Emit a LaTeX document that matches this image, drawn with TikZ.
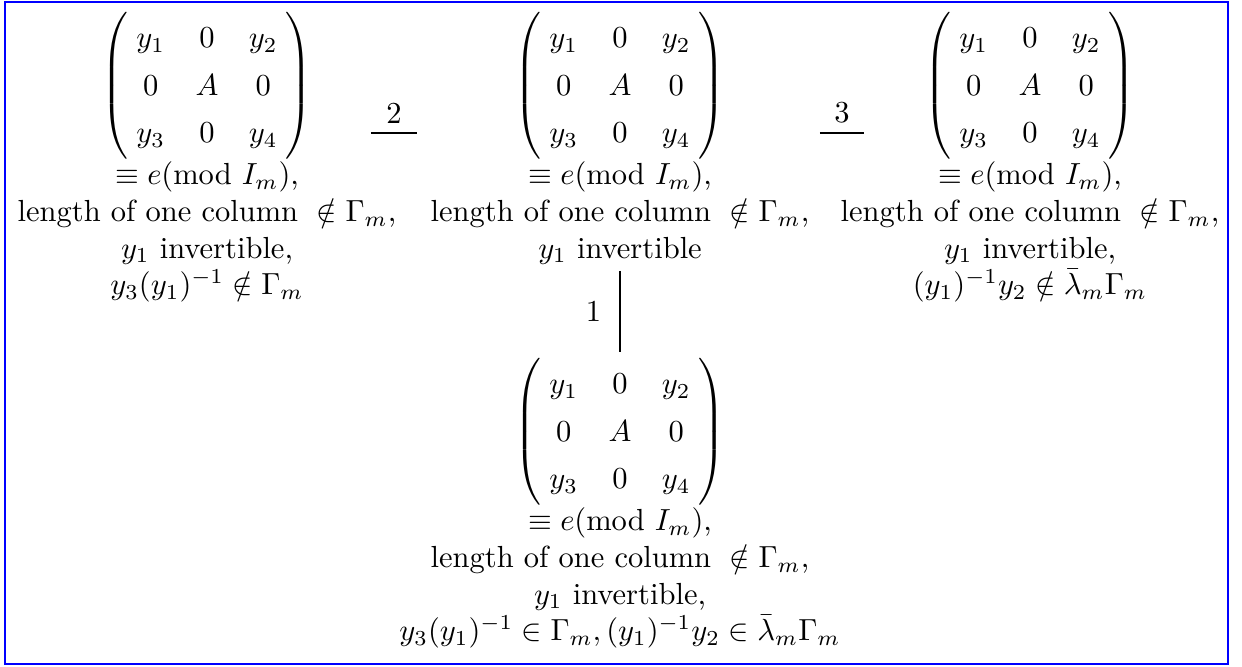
\documentclass[tikz,border=0pt]{standalone}
\usepackage{amsmath}
\usetikzlibrary{positioning}

\newcommand{\ymat}{\left(\renewcommand{\arraystretch}{1.3}%
  \begin{array}{@{\hspace{2.6pt}}ccc@{\hspace{2.6pt}}} y_1 & 0 & y_2\\ 0 & A & 0\\ y_3 & 0 & y_4 \end{array}\right)}

\begin{document}
\begin{tikzpicture}
  [x=0.1152mm,y=-0.1152mm,
   cond/.style={align=center,inner sep=0pt},
   link/.style={draw,line width=0.45pt},
   lbl/.style={inner sep=3pt}]
  \useasboundingbox (0,0) rectangle (1242,666);
  \draw[blue,line width=0.8pt] (5,2) rectangle (1228,664);

  % les quatre cas
  \node[cond,anchor=north] (mA) at (207,12) {$\ymat$\\ $\equiv e(\mathrm{mod}\ I_m)$,\\
    length of one column ${}\notin\Gamma_m$,\\ $y_1$ invertible,\\ $y_3(y_1)^{-1}\notin\Gamma_m$};
  \node[cond,anchor=north] (mB) at (620,12) {$\ymat$\\ $\equiv e(\mathrm{mod}\ I_m)$,\\
    length of one column ${}\notin\Gamma_m$,\\ $y_1$ invertible};
  \node[cond,anchor=north] (mC) at (1030,12) {$\ymat$\\ $\equiv e(\mathrm{mod}\ I_m)$,\\
    length of one column ${}\notin\Gamma_m$,\\ $y_1$ invertible,\\ $(y_1)^{-1}y_2\notin\bar{\lambda}_m\Gamma_m$};
  \node[cond,anchor=south] (mD) at (620,649) {$\ymat$\\ $\equiv e(\mathrm{mod}\ I_m)$,\\
    length of one column ${}\notin\Gamma_m$,\\ $y_1$ invertible,\\ $y_3(y_1)^{-1}\in\Gamma_m,(y_1)^{-1}y_2\in\bar{\lambda}_m\Gamma_m$};

  % les transitions
  \draw[link] ([shift={(-26,121)}]mA.north east) -- node[lbl,above]{2} ([shift={(-13,121)}]mB.north west);
  \draw[link] ([shift={(10,121)}]mB.north east) -- node[lbl,above]{3} ([shift={(24,121)}]mC.north west);
  \draw[link,shorten <=2pt,shorten >=2pt] (mB.south) -- node[lbl,left,inner sep=6pt]{1} (mD.north);
\end{tikzpicture}
\end{document}
